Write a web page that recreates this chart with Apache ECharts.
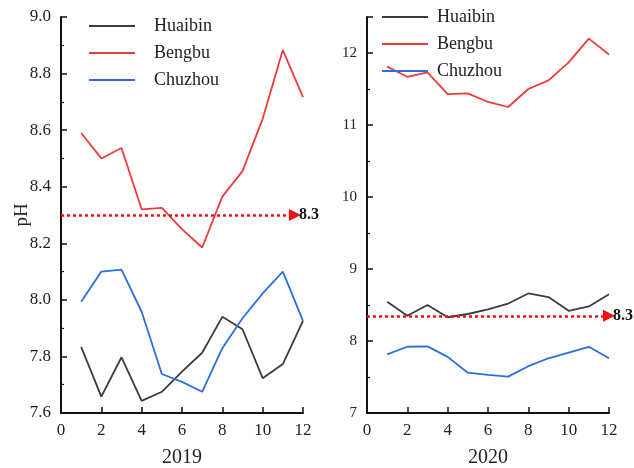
<!DOCTYPE html>
<html><head><meta charset="utf-8">
<script src="https://cdn.jsdelivr.net/npm/echarts@6/dist/echarts.min.js"></script>
<style>html,body{margin:0;padding:0;background:#fff}#c{width:634px;height:468px}</style>
</head><body><div id="c"></div>
<script>
const months = [1,2,3,4,5,6,7,8,9,10,11,12];
const huaibin2019 = [7.834,7.658,7.797,7.643,7.675,7.746,7.813,7.940,7.896,7.723,7.773,7.926];
const bengbu2019  = [8.59,8.50,8.537,8.32,8.325,8.25,8.185,8.365,8.455,8.64,8.883,8.717];
const chuzhou2019 = [7.993,8.10,8.107,7.958,7.738,7.71,7.675,7.829,7.935,8.023,8.10,7.926];
const huaibin2020 = [8.546,8.35,8.50,8.33,8.375,8.44,8.52,8.66,8.61,8.42,8.48,8.65];
const bengbu2020  = [11.81,11.67,11.73,11.43,11.44,11.32,11.25,11.50,11.62,11.87,12.20,11.98];
const chuzhou2020 = [7.815,7.92,7.925,7.78,7.56,7.53,7.505,7.65,7.76,7.84,7.92,7.76];
const threshold2019 = 8.3;
const threshold2020 = 8.35;
const thresholdLabel = '8.3';
const names = ['Huaibin','Bengbu','Chuzhou'];
const colors = ['#3c3c3c','#f03a3a','#2c6ee0'];
const font = 'Liberation Serif';

const pair = (xs, ys) => xs.map((x,i)=>[x,ys[i]]);
function mkSeries(name, color, data, idx, mark, endX){
  const s = {name, type:'line', xAxisIndex:idx, yAxisIndex:idx, data, symbol:'none',
    lineStyle:{color, width:1.8}, itemStyle:{color}, z:3};
  if(mark!==undefined){
    s.markLine = {silent:true, symbol:['none','triangle'], symbolSize:[12,12],
      lineStyle:{color:'#ee1111', type:[3,3], width:2.5},
      label:{show:true, position:'end', formatter:thresholdLabel, color:'#111',
        fontFamily:font, fontWeight:'bold', fontSize:16, distance:4},
      data:[[{coord:[0,mark]},{coord:[endX,mark]}]]};
  }
  return s;
}
const axisCommon = {
  axisLine:{show:true, lineStyle:{color:'#111', width:2}},
  axisTick:{show:true, inside:true, length:6, lineStyle:{color:'#111', width:1.5}},
  splitLine:{show:false},
  nameMoveOverlap:false,
  axisLabel:{color:'#222', fontFamily:font, fontSize:17}
};
const xName = {fontFamily:font, fontSize:20, color:'#222'};
const chart = echarts.init(document.getElementById('c'));
chart.setOption({
  backgroundColor:'#fff',
  animation:false,
  grid:[{left:61, top:17, width:242, height:396, containLabel:false, outerBoundsMode:'none'},
        {left:367, top:17, width:242, height:396, containLabel:false, outerBoundsMode:'none'}],
  xAxis:[
    Object.assign({}, axisCommon, {gridIndex:0, type:'value', min:0, max:12, interval:2,
      name:'2019', nameLocation:'middle', nameGap:35, nameTextStyle:xName,
      axisLabel:Object.assign({}, axisCommon.axisLabel, {margin:9})}),
    Object.assign({}, axisCommon, {gridIndex:1, type:'value', min:0, max:12, interval:2,
      name:'2020', nameLocation:'middle', nameGap:35, nameTextStyle:xName,
      axisLabel:Object.assign({}, axisCommon.axisLabel, {margin:9})})
  ],
  yAxis:[
    Object.assign({}, axisCommon, {gridIndex:0, type:'value', min:7.6, max:9.0, interval:0.2,
      name:'pH', nameLocation:'middle', nameGap:29, nameRotate:90,
      nameTextStyle:{fontFamily:font, fontSize:19, color:'#222'},
      minorTick:{show:true, splitNumber:2, length:3, lineStyle:{color:'#111', width:1.2}},
      axisLabel:Object.assign({}, axisCommon.axisLabel, {margin:10, formatter:v=>v.toFixed(1)})}),
    Object.assign({}, axisCommon, {gridIndex:1, type:'value', min:7, max:12.5, interval:1,
      minorTick:{show:true, splitNumber:2, length:3, lineStyle:{color:'#111', width:1.2}},
      axisLabel:Object.assign({}, axisCommon.axisLabel, {margin:10, fontSize:15, showMaxLabel:false})})
  ],
  legend:[
    {orient:'vertical', left:84, top:12, itemWidth:46, itemHeight:2, itemGap:9, icon:'rect',
     data:names, textStyle:{fontFamily:font, fontSize:18, color:'#222', padding:[0,0,0,14]}},
    {orient:'vertical', left:377, top:3, itemWidth:46, itemHeight:2, itemGap:9, icon:'rect',
     data:names, textStyle:{fontFamily:font, fontSize:18, color:'#222', padding:[0,0,0,4]}}
  ],
  series:[
    mkSeries(names[0], colors[0], pair(months,huaibin2019), 0),
    mkSeries(names[1], colors[1], pair(months,bengbu2019), 0, threshold2019, 11.6),
    mkSeries(names[2], colors[2], pair(months,chuzhou2019), 0),
    mkSeries(names[0], colors[0], pair(months,huaibin2020), 1),
    mkSeries(names[1], colors[1], pair(months,bengbu2020), 1, threshold2020, 12),
    mkSeries(names[2], colors[2], pair(months,chuzhou2020), 1)
  ]
});
</script></body></html>
